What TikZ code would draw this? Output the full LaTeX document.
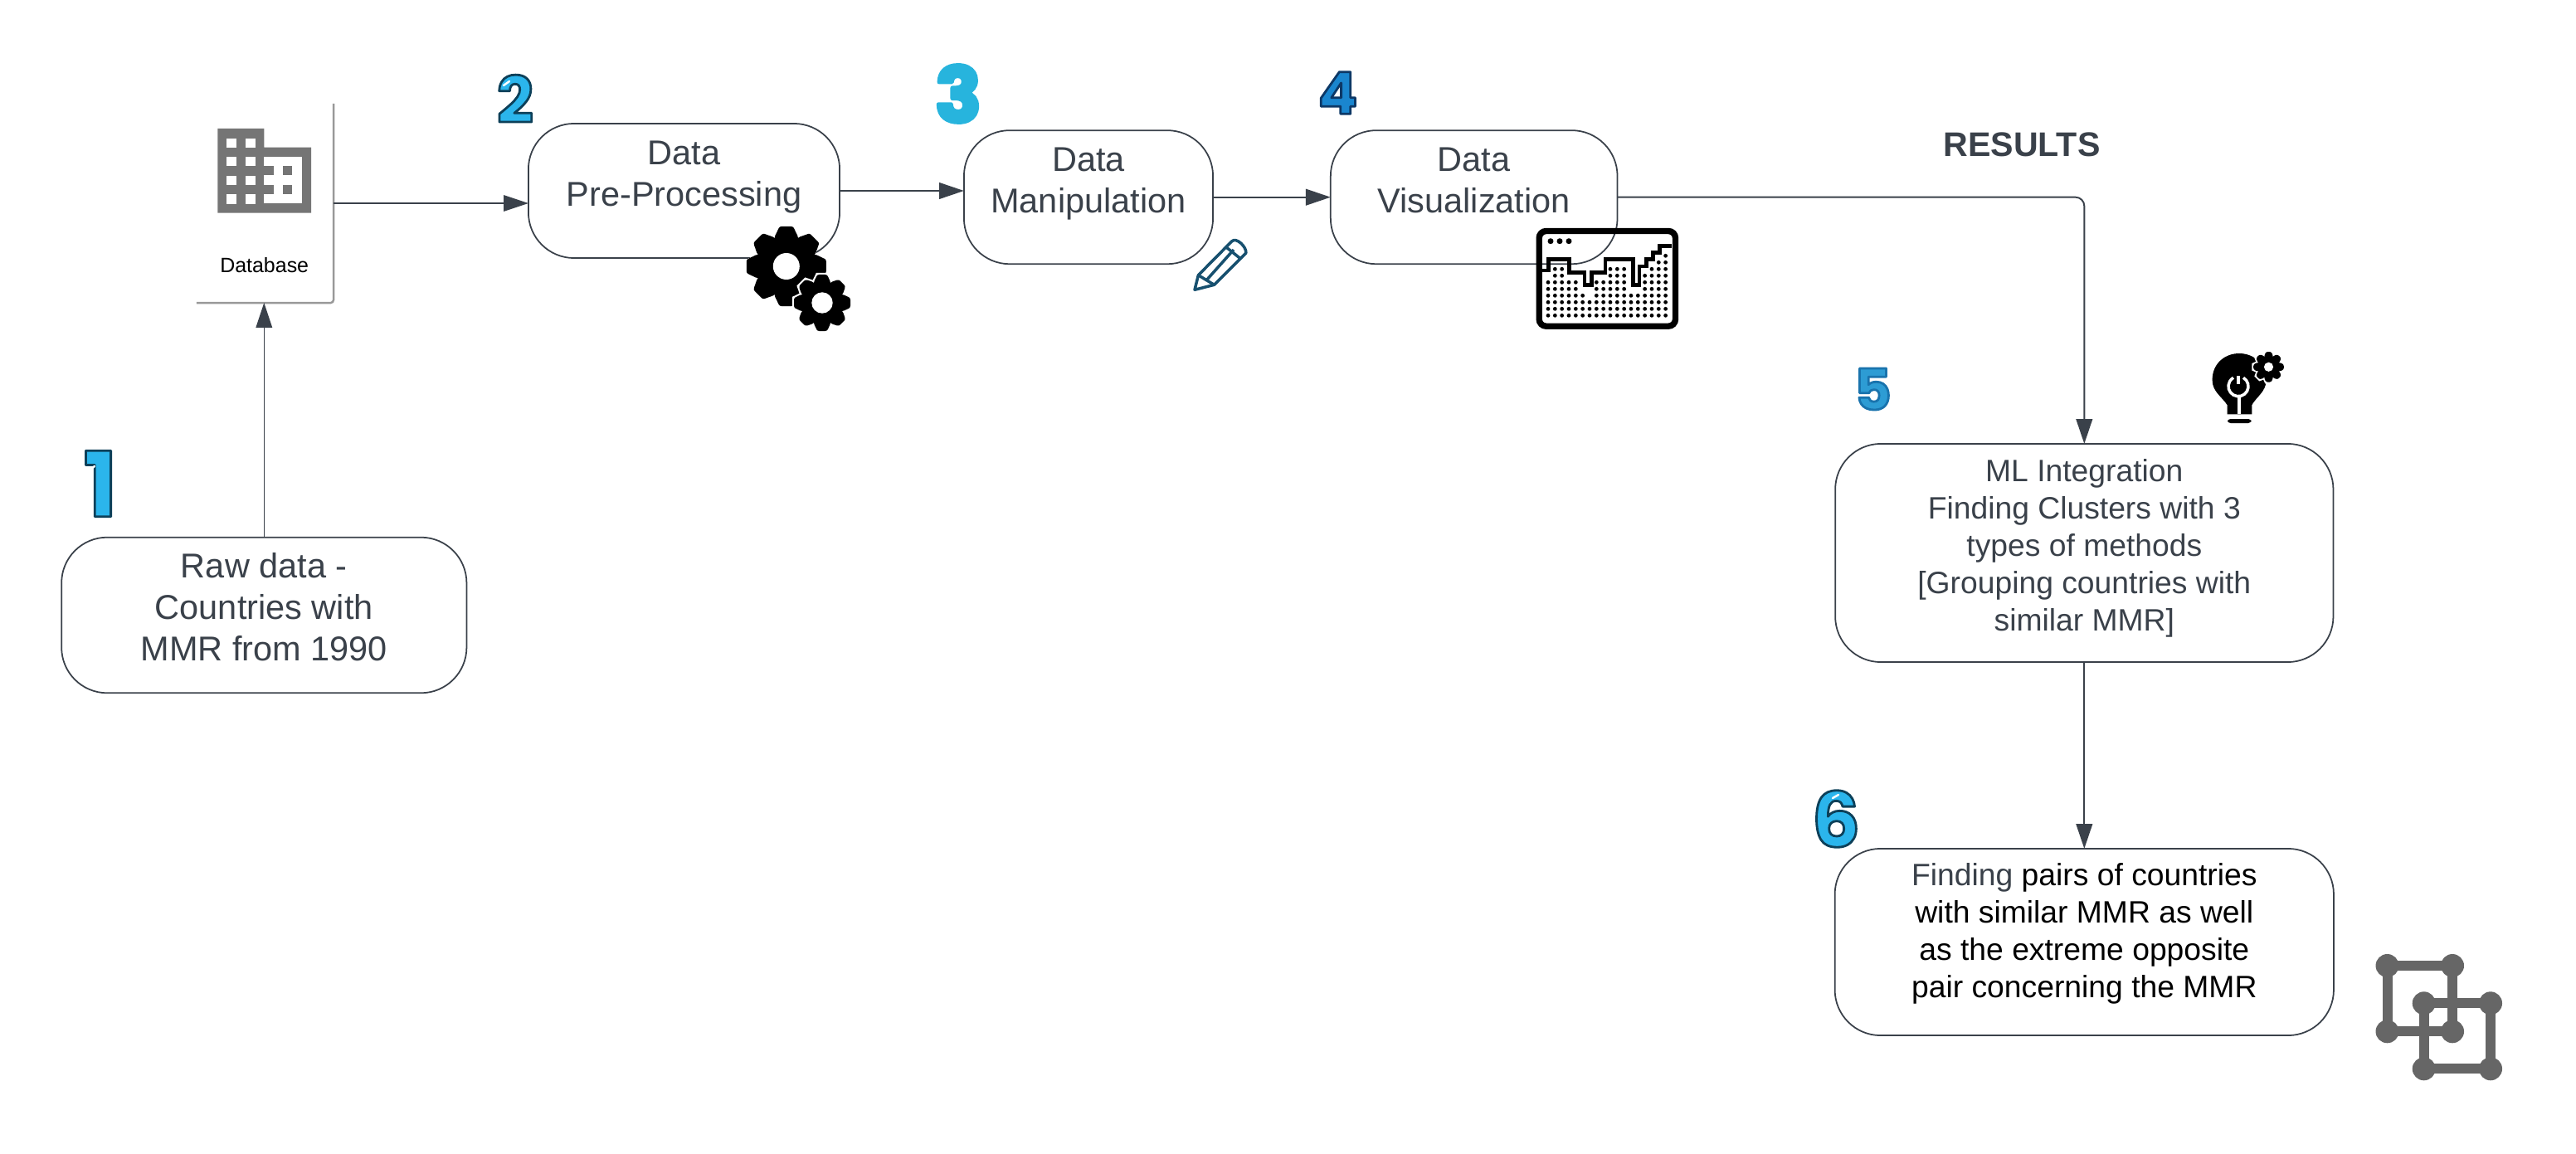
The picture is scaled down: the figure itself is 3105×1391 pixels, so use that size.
\documentclass[tikz,border=0pt]{standalone}
\usepackage{fontspec}
\setmainfont{Liberation Sans}
\newfontfamily\digitfont{Poppins}
\usetikzlibrary{arrows.meta}
\definecolor{inkgrey}{HTML}{3A414A}
\definecolor{iconblack}{HTML}{000000}
\definecolor{icongrey}{HTML}{757575}
\definecolor{pencilblue}{HTML}{17506F}
\definecolor{digitcyan}{HTML}{2BB5EC}
\definecolor{digitsky}{HTML}{27B4DD}
\definecolor{digitblue}{HTML}{1A86CF}
\definecolor{digitfoil}{HTML}{2D9CD4}

% outlined digit: stroke width, stroke colour (rgb), fill colour, size in pt, digit
\newcommand{\rimdigit}[5]{{\fontsize{#4}{#4}\digitfont\bfseries\textcolor{#3}{\special{pdf:literal direct #2 RG #1 w 1 j 2 Tr}#5\special{pdf:literal direct 0 Tr 1 w 0 j}}}}

% gear icon: x, y, outer radius, body radius, hole radius, white rim
\newcommand{\gearicon}[6]{
	\begin{scope}[shift={(#1,#2)}]
		\foreach \a in {0,45,...,315} \path[fill=white,draw=white,line width=#6,rotate=\a] (-0.3*#3,0) -- (-0.3*#3,#4) -- (-0.17*#3,#3) -- (0.17*#3,#3) -- (0.3*#3,#4) -- (0.3*#3,0) -- cycle;
		\fill[iconblack] circle (#4);
		\foreach \a in {0,45,...,315} \fill[iconblack,rotate=\a,rounded corners=0.6pt] (-0.3*#3,0) -- (-0.3*#3,#4) -- (-0.17*#3,#3) -- (0.17*#3,#3) -- (0.3*#3,#4) -- (0.3*#3,0) -- cycle;
		\fill[white] circle (#5);
	\end{scope}
}

\begin{document}
\begin{tikzpicture}[x=0.01cm, y=-0.01cm, > = {Triangle[length=8.5pt,width=5.6pt]},
	stepbox/.style = {draw=inkgrey, line width=0.5pt, rounded corners=0.55cm, outer sep=0pt, inner sep=0pt, align=center, text=inkgrey, font=\fontsize{11.8}{14.22}\selectfont},
	smallbox/.style = {stepbox, font=\fontsize{10.6}{12.8}\selectfont},
	link/.style = {->, draw=inkgrey, line width=0.55pt},
	thinlink/.style = {->, draw=inkgrey, line width=0.3pt},
	digit/.style = {inner sep=0pt, outer sep=0pt},
	glint/.style = {white, line width=0.7pt, line cap=round}]
	\useasboundingbox (0,0) rectangle (3105,1391);

	% boxes
	\node[stepbox, minimum width=4.88cm, minimum height=1.875cm] (raw) at (318.3,741.5) {Raw data -\\Countries with\\MMR from 1990\\[-8.5pt]\mbox{}};
	\node[stepbox, minimum width=3.75cm, minimum height=1.62cm] (prep) at (824.5,230) {Data\\Pre-Processing\\[-2.3pt]\mbox{}};
	\node[stepbox, minimum width=3cm, minimum height=1.61cm] (manip) at (1312,237.7) {Data\\Manipulation\\[-2.3pt]\mbox{}};
	\node[stepbox, minimum width=3.455cm, minimum height=1.61cm] (vis) at (1776.7,237.7) {Data\\Visualization\\[-2.3pt]\mbox{}};
	\node[smallbox, minimum width=6cm, minimum height=2.63cm] (ml) at (2512.3,666.5) {ML Integration\\Finding Clusters with 3\\types of methods\\{}[Grouping countries with\\similar MMR]\\[-7.5pt]\mbox{}};
	\node[smallbox, minimum width=6.01cm, minimum height=2.25cm] (pairs) at (2512.3,1135.5) {Finding \textcolor{black}{pairs of countries}\\\textcolor{black}{with similar MMR as well}\\\textcolor{black}{as the extreme opposite}\\\textcolor{black}{pair concerning the MMR}\\[-4.8pt]\mbox{}};

	% database card
	\node[minimum width=1.65cm, minimum height=2.4cm, inner sep=0pt, outer sep=0pt] (db) at (319.5,245) {};
	\node[inner sep=0pt, font=\fontsize{7.1}{8}\selectfont] (dbtext) at (318.7,320) {Database};
	\draw[draw=black!40, line width=0.7pt, rounded corners=1pt] (db.north east) -- (db.south east) -- (db.south west);
	\fill[icongrey] (262.3,155) -- (318.3,155) -- (318.3,177.7) -- (375,177.7) -- (375,256.7) -- (262.3,256.7) -- cycle; % building
	\fill[white] (318.3,189) rectangle (363.7,245);
	\foreach \x in {273.3,296} \foreach \y in {166.7,189,212,234.3} \fill[white] (\x,\y) rectangle +(11.5,11.3);
	\foreach \y in {200.2,223} {
		\fill[icongrey] (318.3,\y) rectangle +(11.7,11.3);
		\fill[icongrey] (341,\y) rectangle +(11.4,11.3);
	}

	% connectors
	\draw[thinlink] (raw.north) -- (raw.north |- db.south);
	\draw[thinlink] (db.east) -- (db.east -| prep.west);
	\draw[link] (prep.east) -- (prep.east -| manip.west);
	\draw[link] (manip.east) -- (vis.west);
	\draw[link, rounded corners=3pt] (vis.east) -| (ml.north);
	\draw[link] (ml.south) -- (pairs.north);

	\node[inner sep=0pt, text=inkgrey, font=\fontsize{11.7}{14}\selectfont\bfseries] (results) at (2437,174) {RESULTS};

	% numbers
	\node[digit] (n1) at (121,583) {\rimdigit{0.8}{0.05 0.25 0.35}{digitcyan}{31}{1}};
	\node[digit] (n2) at (621,119) {\rimdigit{0.8}{0.05 0.25 0.35}{digitcyan}{22}{2}};
	\node[digit] (n3) at (1155,113) {\rimdigit{1.4}{0.153 0.706 0.867}{digitsky}{26}{3}};
	\node[digit] (n4) at (1612.5,112) {\rimdigit{0.8}{0.05 0.22 0.4}{digitblue}{20}{4}};
	\node[digit] (n5) at (2257.5,469) {\rimdigit{0.8}{0.1 0.45 0.68}{digitfoil}{19.5}{5}};
	\node[digit] (n6) at (2213,987) {\rimdigit{0.8}{0.05 0.25 0.35}{digitcyan}{26}{6}};
	\draw[glint] (108,566.5) -- (114,562);
	\draw[glint] (607,103) -- (614,98);
	\draw[glint] (2209,962) -- (2216,958);

	% gears
	\gearicon{947.8}{321}{48}{35}{16}{0pt}
	\gearicon{991}{365}{34}{25}{12.7}{1.2pt}

	% pencil
	\begin{scope}[draw=pencilblue, line width=1pt, line join=round]
		\draw (1440,349.3) -- (1444.4,331.7) -- (1484.6,291) .. controls (1490,285) and (1503,298) .. (1501.8,305) -- (1463.5,343.3) -- cycle;
		\draw (1444.4,331.7) -- (1463.5,343.3);
		\draw (1478,298) -- (1495.5,312);
		\draw (1454,338) -- (1487,301);
	\end{scope}

	% dashboard
	\draw[iconblack, line width=2.1pt, rounded corners=2.4pt] (1855.2,278.5) rectangle (2019.5,393.2);
	\foreach \x in {1869,1880,1891} \fill[iconblack] (\x,290.7) circle (3.5);
	\draw[iconblack, line width=1.3pt] (1858,326) -- (1866.7,326) -- (1866.7,312.7) -- (1891.7,312.7) -- (1891.7,328.3) -- (1910,328.3) -- (1910,343.3) -- (1918.3,343.3) -- (1918.3,328.3) -- (1935,328.3) -- (1935,312.7) -- (1968.3,312.7) -- (1968.3,343.3) -- (1976,343.3) -- (1976,321) -- (1984.3,321) -- (1984.3,312.7) -- (1992.7,312.7) -- (1992.7,304.3) -- (2000.7,304.3) -- (2000.7,296.7) -- (2015,296.7);
	\foreach \col/\top in {0/2,1/0,2/0,3/2,4/2,5/4,6/5,7/2,8/2,9/0,10/0,11/0,12/4,13/4,14/1,15/0,16/-1,17/-2}
		\foreach \row in {\top,...,7}
			\fill[iconblack] ({1866+8.33*\col},{324.3+8*\row}) circle (2.4);

	% bulb
	\fill[iconblack] (2684.5,499.3) -- (2684.5,488) .. controls (2678,478) and (2666.6,472) .. (2666.6,458) .. controls (2666.6,438) and (2682,426) .. (2699,426) .. controls (2716,426) and (2731.6,438) .. (2731.6,458) .. controls (2731.6,472) and (2720,478) .. (2714.4,488) -- (2714.4,499.3) -- cycle;
	\fill[iconblack, rounded corners=1pt] (2685,505) rectangle (2713.5,510);
	\draw[white, line width=1pt] (2699,499.3) -- (2699,477);
	\draw[white, line width=1pt] (2704,455.3) arc[start angle=-60, end angle=240, radius=12];
	\draw[white, line width=1pt] (2698,453) -- (2698,463);
	\gearicon{2734.5}{442.3}{18.3}{13}{5.6}{1pt}

	% overlapping squares
	\begin{scope}[draw=black!60, fill=black!60, line width=3.4pt]
		\draw (2877.5,1164) rectangle (2956,1243.3);
		\draw (2921.7,1209.3) rectangle (3002,1288.3);
		\foreach \x/\y in {2877.5/1164,2956/1164,2877.5/1243.3,2956/1243.3,2921.7/1209.3,3002/1209.3,2921.7/1288.3,3002/1288.3}
			\path[fill] (\x,\y) circle (14);
	\end{scope}
\end{tikzpicture}
\end{document}
